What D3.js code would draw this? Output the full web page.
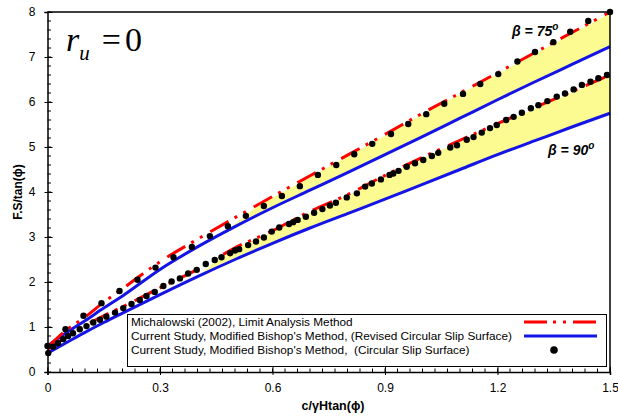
<!DOCTYPE html>
<html>
<head>
<meta charset="utf-8">
<script src="https://cdn.jsdelivr.net/npm/d3@7"></script>
<style>
  html, body { margin: 0; padding: 0; background: #fff; }
  svg { display: block; font-family: "Liberation Sans", Arial, sans-serif; }
  .legend-text { white-space: pre; }
</style>
</head>
<body>
<svg id="chart" width="618" height="418"></svg>
<script>
// Normalised cohesion c/(γH tanφ) and normalised safety factor F.S/tanφ
const xTicks = [0, 0.3, 0.6, 0.9, 1.2, 1.5];
const xTickLabels = ["0", "0.3", "0.6", "0.9", "1.2", "1.5"];
const yTicks = [0, 1, 2, 3, 4, 5, 6, 7, 8];

// Michalowski (2002), limit analysis
const limitX   = [0, 0.05, 0.1, 0.15, 0.2, 0.3, 0.4, 0.5, 0.6, 0.7, 0.8, 0.9, 1.0, 1.1, 1.2, 1.3, 1.4, 1.5];
const limit75  = [0.55, 0.93, 1.22, 1.55, 1.85, 2.45, 2.95, 3.43, 3.9, 4.36, 4.82, 5.28, 5.75, 6.2, 6.65, 7.1, 7.55, 8.0];
const limit90  = [0.5, 0.78, 1.03, 1.25, 1.45, 1.87, 2.28, 2.76, 3.14, 3.57, 3.94, 4.37, 4.77, 5.15, 5.52, 5.88, 6.24, 6.6];

// Modified Bishop, revised circular slip surface
const revised75 = [0.58, 0.87, 1.14, 1.42, 1.69, 2.28, 2.78, 3.23, 3.65, 4.04, 4.43, 4.83, 5.23, 5.64, 6.05, 6.45, 6.84, 7.23];
const revised90 = [0.42, 0.65, 0.88, 1.1, 1.31, 1.72, 2.12, 2.5, 2.86, 3.2, 3.52, 3.84, 4.17, 4.5, 4.83, 5.14, 5.45, 5.75];

// Modified Bishop, circular slip surface (β = 75°)
const circ75X = [0, 0.048, 0.096, 0.144, 0.192, 0.24, 0.288, 0.336, 0.385, 0.433, 0.481, 0.529, 0.577, 0.625, 0.673, 0.721,
                 0.77, 0.818, 0.866, 0.916, 0.962, 1.01, 1.058, 1.108, 1.154, 1.202, 1.253, 1.3, 1.349, 1.394, 1.442, 1.5];
const circ75Y = [0.58, 0.95, 1.25, 1.53, 1.8, 2.05, 2.32, 2.55, 2.78, 3.02, 3.24, 3.47, 3.69, 3.91, 4.13, 4.38,
                 4.6, 4.84, 5.07, 5.29, 5.51, 5.73, 5.96, 6.18, 6.4, 6.62, 6.9, 7.11, 7.33, 7.56, 7.8, 8.0];

// Modified Bishop, circular slip surface (β = 90°)
const circ90X = [0.002, 0.015, 0.028, 0.042, 0.055, 0.068, 0.086, 0.104, 0.122, 0.14, 0.157, 0.18, 0.202, 0.224, 0.246, 0.264,
                 0.286, 0.309, 0.331, 0.353, 0.375, 0.398, 0.422, 0.446, 0.464, 0.487, 0.5, 0.511, 0.535, 0.556, 0.577, 0.598,
                 0.618, 0.644, 0.655, 0.667, 0.689, 0.711, 0.733, 0.753, 0.769, 0.798, 0.825, 0.847, 0.865, 0.889, 0.912,
                 0.922, 0.936, 0.958, 0.98, 1.002, 1.025, 1.042, 1.074, 1.092, 1.118, 1.136, 1.158, 1.18, 1.198, 1.223,
                 1.243, 1.265, 1.289, 1.309, 1.333, 1.358, 1.38, 1.403, 1.425, 1.448, 1.469, 1.492];
const circ90Y = [0.42, 0.56, 0.64, 0.73, 0.8, 0.86, 0.95, 1.02, 1.1, 1.16, 1.23, 1.32, 1.42, 1.51, 1.6, 1.69,
                 1.78, 1.91, 2.01, 2.08, 2.19, 2.27, 2.4, 2.49, 2.55, 2.64, 2.7, 2.73, 2.82, 2.9, 2.99, 3.12,
                 3.21, 3.29, 3.33, 3.38, 3.45, 3.54, 3.62, 3.7, 3.76, 3.88, 3.97, 4.12, 4.19, 4.28, 4.38,
                 4.41, 4.47, 4.56, 4.64, 4.71, 4.8, 4.87, 4.99, 5.04, 5.16, 5.22, 5.32, 5.42, 5.49, 5.6,
                 5.67, 5.76, 5.86, 5.93, 6.02, 6.12, 6.19, 6.28, 6.38, 6.45, 6.53, 6.6];

// Where the shaded gap between the two methods begins
const bandStart75 = 0.48;
const bandStart90 = 0.40;

const legendLabels = [
  "Michalowski (2002), Limit Analysis Method",
  "Current Study, Modified Bishop's Method, (Revised Circular Slip Surface)",
  "Current Study, Modified Bishop's Method,  (Circular Slip Surface)"
];

const RED = "#ff0000", BLUE = "#1414e6", YELLOW = "#fbfb92";

const svg = d3.select("#chart");
const m = { left: 47.5, right: 610, top: 12, bottom: 372 };
const x = d3.scaleLinear().domain([0, 1.5]).range([m.left, m.right]);
const y = d3.scaleLinear().domain([0, 8]).range([m.bottom, m.top]);

const pts = (xs, ys) => xs.map((v, i) => [v, ys[i]]);
const line = d3.line().x(d => x(d[0])).y(d => y(d[1])).curve(d3.curveMonotoneX);

// Shaded band between the limit-analysis curve and the revised-surface curve
function bandData(start, hi, lo) {
  const hiAt = d3.scaleLinear().domain(limitX).range(hi);
  const loAt = d3.scaleLinear().domain(limitX).range(lo);
  const out = [[start, loAt(start), loAt(start)], [start + 0.08, hiAt(start + 0.08) - 0.03, loAt(start + 0.08)]];
  limitX.filter(v => v > start + 0.08).forEach(v => out.push([v, hiAt(v) - 0.03, loAt(v)]));
  return out;
}
const area = d3.area().x(d => x(d[0])).y0(d => y(d[2])).y1(d => y(d[1])).curve(d3.curveMonotoneX);
svg.append("path").attr("d", area(bandData(bandStart75, limit75, revised75))).attr("fill", YELLOW);
svg.append("path").attr("d", area(bandData(bandStart90, limit90, revised90))).attr("fill", YELLOW);

// Revised circular slip surface curves
[revised75, revised90].forEach(ys => {
  svg.append("path").attr("d", line(pts(limitX, ys)))
    .attr("fill", "none").attr("stroke", BLUE).attr("stroke-width", 3);
});

// Limit analysis curves
const DASH = "21,7,3,7,3,9";
[limit75, limit90].forEach(ys => {
  svg.append("path").attr("d", line(pts(limitX, ys)))
    .attr("fill", "none").attr("stroke", RED).attr("stroke-width", 3)
    .attr("stroke-dasharray", DASH);
});

// Circular slip surface results
[[circ75X, circ75Y], [circ90X, circ90Y]].forEach(([xs, ys]) => {
  svg.append("g").selectAll("circle").data(pts(xs, ys)).join("circle")
    .attr("cx", d => x(d[0])).attr("cy", d => y(d[1])).attr("r", 3.2).attr("fill", "#000");
});

// Frame
svg.append("path")
  .attr("d", `M${m.left},${m.top}H${m.right}V${m.bottom}`)
  .attr("fill", "none").attr("stroke", "#000").attr("stroke-width", 1.5);

// Axes
const yAxis = svg.append("g").attr("transform", `translate(${m.left},0)`)
  .call(d3.axisLeft(y).tickValues(yTicks).tickFormat(d3.format("d")).tickSize(3).tickPadding(9));
yAxis.select(".domain").attr("stroke-width", 1.5);
yAxis.selectAll(".tick line").attr("x1", 5);
yAxis.selectAll("text").attr("font-size", 12).attr("fill", "#000");

const xAxis = svg.append("g").attr("transform", `translate(0,${m.bottom})`)
  .call(d3.axisBottom(x).tickValues(xTicks).tickFormat((d, i) => xTickLabels[i]).tickSize(3).tickPadding(8));
xAxis.select(".domain").attr("stroke-width", 1.5);
xAxis.selectAll(".tick line").attr("y1", -5);
xAxis.selectAll("text").attr("font-size", 12).attr("fill", "#000");

// Minor ticks, drawn inside the plot
svg.append("g").selectAll("line").data(d3.range(0, 8.01, 0.2)).join("line")
  .attr("x1", m.left).attr("x2", m.left + 3.5)
  .attr("y1", d => y(d)).attr("y2", d => y(d)).attr("stroke", "#000");
svg.append("g").selectAll("line").data(d3.range(0, 45.5, 1).map(k => k / 30)).join("line")
  .attr("x1", d => x(d)).attr("x2", d => x(d))
  .attr("y1", m.bottom).attr("y2", m.bottom - 3.5).attr("stroke", "#000");

// Axis titles
svg.append("text").attr("x", 333).attr("y", 410).attr("text-anchor", "middle")
  .attr("font-size", 12.5).attr("font-weight", "bold").text("c/γHtan(ϕ)");
svg.append("text").attr("transform", "translate(22,192) rotate(-90)").attr("text-anchor", "middle")
  .attr("font-size", 12).attr("font-weight", "bold").text("F.S/tan(ϕ)");

// Pore pressure annotation
const ru = svg.append("text").attr("x", 66).attr("y", 51)
  .attr("font-family", "'Liberation Serif', 'Times New Roman', serif").attr("font-size", 34);
ru.append("tspan").attr("font-style", "italic").text("r");
ru.append("tspan").attr("font-style", "italic").attr("font-size", 21).attr("dy", 9).text("u");
ru.append("tspan").attr("dy", -9).attr("dx", 12).text("=");
ru.append("tspan").attr("dx", 4).text("0");

// Slope angle labels
function betaLabel(px, py, deg) {
  const t = svg.append("text").attr("x", px).attr("y", py)
    .attr("font-size", 14).attr("font-weight", "bold").attr("font-style", "italic");
  t.append("tspan").text(`β = ${deg}`);
  t.append("tspan").attr("font-size", 10).attr("dy", -6).text("o");
}
betaLabel(512, 36, 75);
betaLabel(548, 155, 90);

// Legend
const lg = svg.append("g");
lg.append("rect").attr("x", 127.5).attr("y", 314.5).attr("width", 479).attr("height", 52)
  .attr("fill", "#fff").attr("stroke", "#000").attr("stroke-width", 1);
const rows = [322, 336, 350];
legendLabels.forEach((t, i) => {
  lg.append("text").attr("class", "legend-text").attr("x", 131).attr("y", rows[i] + 4)
    .attr("font-size", 11.8).text(t);
});
lg.append("line").attr("x1", 524).attr("x2", 597).attr("y1", rows[0]).attr("y2", rows[0])
  .attr("stroke", RED).attr("stroke-width", 3).attr("stroke-dasharray", "23,6,3,7,3,7");
lg.append("line").attr("x1", 524).attr("x2", 597).attr("y1", rows[1]).attr("y2", rows[1])
  .attr("stroke", BLUE).attr("stroke-width", 3);
lg.append("circle").attr("cx", 554).attr("cy", rows[2]).attr("r", 3.8).attr("fill", "#000");
</script>
</body>
</html>
